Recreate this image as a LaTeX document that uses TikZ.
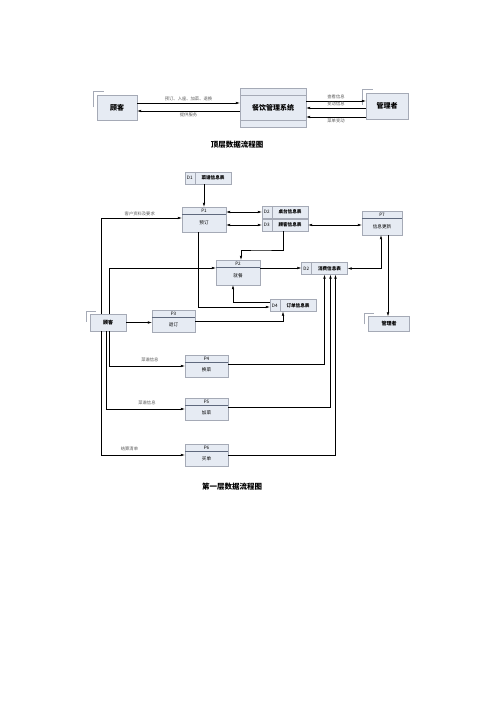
\documentclass[tikz,border=0pt]{standalone}
\usepackage{fontspec}
\setmainfont{Noto Sans CJK SC}
\usetikzlibrary{arrows.meta}
\usetikzlibrary{positioning}
\definecolor{boxfill}{RGB}{230,235,243}
\definecolor{boxline}{RGB}{165,170,182}
\definecolor{hdrline}{RGB}{95,105,125}

\tikzset{
  entity/.style={draw=boxline,fill=boxfill,font=\fontsize{7}{7}\selectfont\bfseries,inner sep=0pt},
  ent1/.style={entity,font=\fontsize{5}{5}\selectfont\bfseries,minimum width=40pt,minimum height=16pt},
  proc/.style={draw=boxline,fill=boxfill,inner sep=0pt},
  store/.style={draw=boxline,fill=boxfill,inner sep=0pt,minimum width=46pt,minimum height=12pt},
  small/.style={font=\fontsize{4.6}{4.6}\selectfont,inner sep=0pt},
  lbl/.style={font=\fontsize{4.3}{4.3}\selectfont,text=black!65,inner sep=1.5pt},
  flow/.style={-{Latex[length=4pt,width=2.6pt]},line width=0.5pt},
  both/.style={{Latex[length=4pt,width=2.6pt]}-{Latex[length=4pt,width=2.6pt]},line width=0.5pt},
  title/.style={font=\fontsize{7.5}{7.5}\selectfont\bfseries}
}

\begin{document}
\begin{tikzpicture}[x=1pt,y=-1pt]
    \useasboundingbox (0,0) rectangle (500,708);

    % top level
    \node[entity,minimum width=40pt,minimum height=25pt] (kh0) at (117,108) {顾客};
    \node[entity,minimum width=66pt,minimum height=39pt] (sys) at (273,108) {餐饮管理系统};
    \node[entity,minimum width=42pt,minimum height=26pt] (gl0) at (387,106) {管理者};
    \draw[boxline] ([yshift=-7pt]sys.north west) -- ([yshift=-7pt]sys.north east);
    \draw[boxline] ([yshift=7pt]sys.south west) -- ([yshift=7pt]sys.south east);
    \draw[boxline] ([xshift=-4pt,yshift=-12pt]kh0.north west) |- ([xshift=7pt,yshift=4pt]kh0.north west);
    \draw[boxline] ([xshift=-4pt,yshift=-12pt]gl0.north west) |- ([xshift=7pt,yshift=4pt]gl0.north west);

    \draw[flow] ([yshift=5pt]kh0.east) -- ([yshift=5pt]kh0.east -| sys.west) node[lbl,midway,above] {预订、入座、加菜、退换};
    \draw[flow] ([yshift=-3pt]sys.west) -- ([yshift=-3pt]sys.west -| kh0.east) node[lbl,midway,below] {提供服务};
    \draw[flow] ([yshift=7pt]sys.east) -- ([yshift=7pt]sys.east -| gl0.west) node[lbl,midway,above] {查看信息};
    \draw[flow] (gl0.west |- sys.east) -- (sys.east) node[lbl,midway,above] {变动信息};
    \draw[flow] ([yshift=-9pt]sys.east -| gl0.west) -- ([yshift=-9pt]sys.east) node[lbl,midway,below] {菜单变动};

    \node[title] (t0) at (237,145) {顶层数据流程图};

    % first level: processes
    \foreach \n/\x/\y/\w/\h/\t in {1/204/219.5/44/25/预订, 2/238/272.5/44/25/就餐, 3/173.5/321/43/22/退订,
                                  4/206.5/366/43/22/换菜, 5/206.5/409/43/22/加菜, 6/206.5/455/43/22/买单,
                                  7/382/223/40/24/信息更新} {
        \node[proc,minimum width=\w pt,minimum height=\h pt] (p\n) at (\x,\y) {};
        \draw[hdrline,line width=0.6pt] ([yshift=-7.5pt]p\n.north west) -- ([yshift=-7.5pt]p\n.north east);
        \node[small] (p\n h) at ([yshift=-3.8pt]p\n.north) {P\n};
        \node[small] (p\n t) at ([yshift={-(\h+7.5)/2*1pt}]p\n.north) {\t};
    }

    % data stores
    \foreach \s/\d/\x/\y/\t in {d1/D1/208/178/菜谱信息表, d2/D2/285/212/桌台信息表, d3/D3/285/225/顾客信息表,
                               d4/D4/293/305.5/订单信息表, d5/D2/324.5/268.5/消费信息表} {
        \node[store] (\s) at (\x,\y) {};
        \draw[boxline] ([xshift=10pt]\s.north west) -- ([xshift=10pt]\s.south west);
        \node[small] (\s n) at ([xshift=5pt]\s.west) {\d};
        \node[small,font=\fontsize{4.6}{4.6}\selectfont\bfseries] (\s t) at ([xshift=5pt]\s.center) {\t};
    }

    % external entities
    \node[ent1,minimum width=36pt,minimum height=17pt] (kh1) at (108,322.5) {顾客};
    \node[ent1,minimum width=41pt,minimum height=15pt] (gl1) at (389,324) {管理者};
    \draw[boxline] ([xshift=-4pt,yshift=-8pt]kh1.north west) |- ([xshift=6pt,yshift=3pt]kh1.north west);
    \draw[boxline] ([xshift=-4pt,yshift=-8pt]gl1.north west) |- ([xshift=6pt,yshift=3pt]gl1.north west);

    % flows
    \draw[flow] (d1.south -| p1.north) -- (p1.north);
    \draw[both] (p1.east |- d2) -- (d2.west);
    \draw[both] (p1.east |- d3) -- (d3.west);
    \draw[both] (d3.east) -- (d3.east -| p7.west);

    \coordinate (c1) at (101,0);
    \coordinate (c2) at (106,0);
    \coordinate (c3) at (109,0);
    \draw[flow] (kh1.north -| c1) |- ([yshift=1.5pt]p1.west) node[lbl,pos=0.74,above] {客户资料及要求};
    \draw[flow] (kh1.north -| c3) |- ([yshift=4.5pt]p2.west);
    \draw[flow] (kh1.south -| c3) |- (p4.west) node[lbl,pos=0.77,above=2pt] {菜谱信息};
    \draw[flow] (kh1.south -| c2) |- (p5.west) node[lbl,pos=0.76,above=2pt] {菜谱信息};
    \draw[flow] (kh1.south -| c1) |- (p6.west) node[lbl,pos=0.67,above=2pt] {结算清单};
    \draw[flow] (kh1.east) -- (kh1.east -| p3.west);

    \draw[flow] ([yshift=4.5pt]p2.east) -- ([yshift=4.5pt]p2.east -| d5.west);
    \draw[flow] ([xshift=-6pt]p1.south) |- ([yshift=-1.5pt]d4.west);
    \draw[flow] ([yshift=3.5pt]d4.west) -| ([xshift=-5pt]p2.south);
    \draw[flow] (p3.east) -| ([xshift=-10pt]d4.south);
    \draw[flow] ([xshift=-2pt]d3.south) |- (260,250) -| ([xshift=3pt]p2.north);

    \draw[flow] ([yshift=2pt]p4.east) -| (d5.south);
    \draw[flow] ([yshift=2pt]p5.east) -| ([xshift=6pt]d5.south);
    \draw[flow] (p6.east) -| ([xshift=11pt]d5.south);

    \draw[both] (d5.east) -| ([xshift=-1pt]p7.south);
    \draw[flow] ([xshift=6pt]p7.south) -- ([xshift=6pt]p7.south |- gl1.north);

    \node[title] (t1) at (232,487) {第一层数据流程图};
\end{tikzpicture}
\end{document}
